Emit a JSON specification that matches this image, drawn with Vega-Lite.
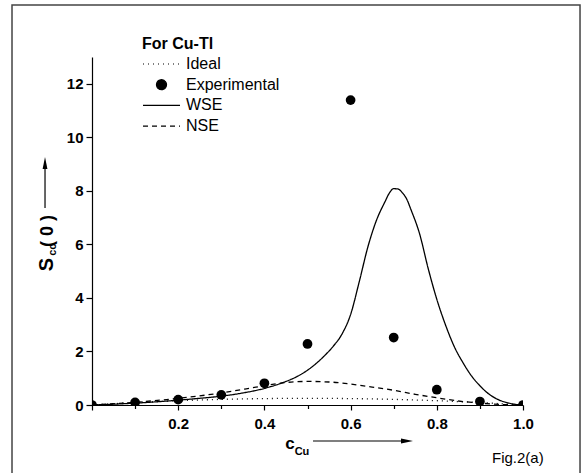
{
  "$schema": "https://vega.github.io/schema/vega-lite/v6.json",
  "width": 431,
  "height": 348,
  "autosize": {"type": "none"},
  "padding": {"left": 92, "top": 57, "right": 59, "bottom": 68},
  "background": "white",
  "config": {"view": {"stroke": null}, "font": "Liberation Sans"},
  "datasets": {
    "curves": [
      {"c": 0, "s": 0, "series": "Ideal"},
      {"c": 0.1, "s": 0.09, "series": "Ideal"},
      {"c": 0.2, "s": 0.16, "series": "Ideal"},
      {"c": 0.3, "s": 0.21, "series": "Ideal"},
      {"c": 0.4, "s": 0.24, "series": "Ideal"},
      {"c": 0.5, "s": 0.25, "series": "Ideal"},
      {"c": 0.6, "s": 0.24, "series": "Ideal"},
      {"c": 0.7, "s": 0.21, "series": "Ideal"},
      {"c": 0.8, "s": 0.16, "series": "Ideal"},
      {"c": 0.9, "s": 0.09, "series": "Ideal"},
      {"c": 1.0, "s": 0, "series": "Ideal"},
      {"c": 0, "s": 0, "series": "WSE"},
      {"c": 0.05, "s": 0.03, "series": "WSE"},
      {"c": 0.1, "s": 0.07, "series": "WSE"},
      {"c": 0.15, "s": 0.12, "series": "WSE"},
      {"c": 0.2, "s": 0.18, "series": "WSE"},
      {"c": 0.25, "s": 0.25, "series": "WSE"},
      {"c": 0.3, "s": 0.33, "series": "WSE"},
      {"c": 0.35, "s": 0.45, "series": "WSE"},
      {"c": 0.4, "s": 0.62, "series": "WSE"},
      {"c": 0.44, "s": 0.82, "series": "WSE"},
      {"c": 0.48, "s": 1.1, "series": "WSE"},
      {"c": 0.5, "s": 1.3, "series": "WSE"},
      {"c": 0.52, "s": 1.55, "series": "WSE"},
      {"c": 0.54, "s": 1.85, "series": "WSE"},
      {"c": 0.56, "s": 2.2, "series": "WSE"},
      {"c": 0.58, "s": 2.65, "series": "WSE"},
      {"c": 0.6, "s": 3.38, "series": "WSE"},
      {"c": 0.62, "s": 4.6, "series": "WSE"},
      {"c": 0.64, "s": 5.9, "series": "WSE"},
      {"c": 0.66, "s": 6.9, "series": "WSE"},
      {"c": 0.68, "s": 7.6, "series": "WSE"},
      {"c": 0.69, "s": 7.92, "series": "WSE"},
      {"c": 0.7, "s": 8.08, "series": "WSE"},
      {"c": 0.71, "s": 8.07, "series": "WSE"},
      {"c": 0.72, "s": 7.93, "series": "WSE"},
      {"c": 0.73, "s": 7.7, "series": "WSE"},
      {"c": 0.74, "s": 7.3, "series": "WSE"},
      {"c": 0.76, "s": 6.4, "series": "WSE"},
      {"c": 0.78, "s": 5.1, "series": "WSE"},
      {"c": 0.8, "s": 3.95, "series": "WSE"},
      {"c": 0.82, "s": 3.0, "series": "WSE"},
      {"c": 0.84, "s": 2.2, "series": "WSE"},
      {"c": 0.86, "s": 1.6, "series": "WSE"},
      {"c": 0.88, "s": 1.1, "series": "WSE"},
      {"c": 0.9, "s": 0.72, "series": "WSE"},
      {"c": 0.92, "s": 0.42, "series": "WSE"},
      {"c": 0.94, "s": 0.22, "series": "WSE"},
      {"c": 0.96, "s": 0.1, "series": "WSE"},
      {"c": 0.98, "s": 0.03, "series": "WSE"},
      {"c": 1.0, "s": 0, "series": "WSE"},
      {"c": 0, "s": 0, "series": "NSE"},
      {"c": 0.1, "s": 0.1, "series": "NSE"},
      {"c": 0.2, "s": 0.25, "series": "NSE"},
      {"c": 0.3, "s": 0.45, "series": "NSE"},
      {"c": 0.4, "s": 0.72, "series": "NSE"},
      {"c": 0.45, "s": 0.84, "series": "NSE"},
      {"c": 0.5, "s": 0.88, "series": "NSE"},
      {"c": 0.55, "s": 0.86, "series": "NSE"},
      {"c": 0.6, "s": 0.78, "series": "NSE"},
      {"c": 0.65, "s": 0.67, "series": "NSE"},
      {"c": 0.7, "s": 0.55, "series": "NSE"},
      {"c": 0.75, "s": 0.4, "series": "NSE"},
      {"c": 0.8, "s": 0.27, "series": "NSE"},
      {"c": 0.85, "s": 0.15, "series": "NSE"},
      {"c": 0.9, "s": 0.07, "series": "NSE"},
      {"c": 0.95, "s": 0.02, "series": "NSE"},
      {"c": 1.0, "s": 0, "series": "NSE"}
    ],
    "exp": [
      {"c": 0, "s": 0},
      {"c": 0.1, "s": 0.1},
      {"c": 0.2, "s": 0.2},
      {"c": 0.3, "s": 0.38},
      {"c": 0.4, "s": 0.81},
      {"c": 0.5, "s": 2.28},
      {"c": 0.6, "s": 11.39},
      {"c": 0.7, "s": 2.52},
      {"c": 0.8, "s": 0.57},
      {"c": 0.9, "s": 0.13},
      {"c": 1.0, "s": 0}
    ]
  },
  "layer": [
    {
      "data": {"name": "curves"},
      "mark": {"type": "line", "color": "black", "strokeWidth": 1.3, "interpolate": "monotone"},
      "encoding": {
        "x": {
          "field": "c", "type": "quantitative",
          "scale": {"domain": [0, 1], "nice": false, "zero": false},
          "axis": {
            "title": null, "grid": false,
            "values": [0, 0.1, 0.2, 0.3, 0.4, 0.5, 0.6, 0.7, 0.8, 0.9, 1.0],
            "labelExpr": "(datum.value > 0.05 && round(datum.value * 10) % 2 == 0) ? format(datum.value, '.1f') : ''",
            "tickSize": {"condition": {"test": "round(datum.value * 10) % 2 == 0", "value": 5}, "value": 3.5},
            "labelFont": "Liberation Sans", "labelFontWeight": "bold", "labelFontSize": 15, "labelColor": "black",
            "labelPadding": 6, "labelFlush": false, "labelOverlap": false,
            "domainColor": "black", "domainWidth": 1.2, "tickColor": "black", "tickWidth": 1.2
          }
        },
        "y": {
          "field": "s", "type": "quantitative",
          "scale": {"domain": [0, 13], "nice": false},
          "axis": {
            "title": null, "grid": false,
            "values": [0, 1, 2, 3, 4, 5, 6, 7, 8, 9, 10, 11, 12, 13],
            "labelExpr": "(datum.value % 2 == 0 && datum.value <= 12) ? datum.label : ''",
            "tickSize": {"condition": {"test": "datum.value % 2 == 0", "value": 6}, "value": 3.5},
            "labelFont": "Liberation Sans", "labelFontWeight": "bold", "labelFontSize": 15, "labelColor": "black",
            "labelPadding": 3, "labelFlush": false, "labelOverlap": false,
            "domainColor": "black", "domainWidth": 1.2, "tickColor": "black", "tickWidth": 1.2
          }
        },
        "strokeDash": {
          "field": "series", "type": "nominal",
          "scale": {"domain": ["Ideal", "Experimental", "WSE", "NSE"], "range": [[1, 4], [1, 0], [1, 0], [5, 4]]},
          "legend": {
            "title": "For Cu-Tl",
            "titleFont": "Liberation Sans", "titleFontSize": 16, "titleFontWeight": "bold", "titleColor": "black",
            "titlePadding": 4,
            "labelFont": "Liberation Sans", "labelFontSize": 16, "labelColor": "black", "labelOffset": 5,
            "orient": "none", "legendX": 50, "legendY": -21, "padding": 0,
            "clipHeight": 16, "rowPadding": 4.7,
            "symbolStrokeColor": "black", "symbolStrokeWidth": 1.2,
            "encode": {
              "symbols": {
                "update": {
                  "shape": {"signal": "datum.value === 'Experimental' ? 'circle' : 'stroke'"},
                  "size": {"signal": "datum.value === 'Experimental' ? 100 : 1369"},
                  "fill": {"signal": "datum.value === 'Experimental' ? 'black' : 'transparent'"},
                  "stroke": {"value": "black"}
                }
              }
            }
          }
        }
      }
    },
    {
      "data": {"name": "exp"},
      "mark": {"type": "point", "shape": "circle", "filled": true, "color": "black", "opacity": 1, "size": 95, "clip": true},
      "encoding": {
        "x": {"field": "c", "type": "quantitative", "scale": {"domain": [0, 1], "nice": false, "zero": false}},
        "y": {"field": "s", "type": "quantitative", "scale": {"domain": [0, 13], "nice": false}}
      }
    },
    {
      "data": {"values": [{}]},
      "mark": {"type": "rect", "fill": "transparent", "stroke": "#444444", "strokeWidth": 1.5, "clip": false},
      "encoding": {
        "x": {"datum": -0.1856, "type": "quantitative", "scale": {"domain": [0, 1], "nice": false, "zero": false}},
        "x2": {"datum": 1.1323},
        "y": {"datum": 14.94, "type": "quantitative", "scale": {"domain": [0, 13], "nice": false}},
        "y2": {"datum": -2.8}
      }
    },
    {
      "data": {"values": [{}]},
      "mark": {"type": "text", "text": "S", "font": "Liberation Sans", "fontWeight": "bold", "fontSize": 20, "angle": 270, "align": "center", "baseline": "alphabetic", "color": "black", "clip": false},
      "encoding": {
        "x": {"datum": -0.0905, "type": "quantitative", "scale": {"domain": [0, 1], "nice": false, "zero": false}},
        "y": {"datum": 5.25, "type": "quantitative", "scale": {"domain": [0, 13], "nice": false}}
      }
    },
    {
      "data": {"values": [{}]},
      "mark": {"type": "text", "text": "cc", "font": "Liberation Sans", "fontWeight": "bold", "fontSize": 11, "angle": 270, "align": "center", "baseline": "alphabetic", "color": "black", "clip": false},
      "encoding": {
        "x": {"datum": -0.0835, "type": "quantitative", "scale": {"domain": [0, 1], "nice": false, "zero": false}},
        "y": {"datum": 5.8, "type": "quantitative", "scale": {"domain": [0, 13], "nice": false}}
      }
    },
    {
      "data": {"values": [{}]},
      "mark": {"type": "text", "text": "( 0 )", "font": "Liberation Sans", "fontWeight": "bold", "fontSize": 18, "angle": 270, "align": "center", "baseline": "alphabetic", "color": "black", "clip": false},
      "encoding": {
        "x": {"datum": -0.0905, "type": "quantitative", "scale": {"domain": [0, 1], "nice": false, "zero": false}},
        "y": {"datum": 6.5, "type": "quantitative", "scale": {"domain": [0, 13], "nice": false}}
      }
    },
    {
      "data": {"values": [{}]},
      "mark": {"type": "rule", "color": "black", "strokeWidth": 1.2, "clip": false},
      "encoding": {
        "x": {"datum": -0.109, "type": "quantitative", "scale": {"domain": [0, 1], "nice": false, "zero": false}},
        "y": {"datum": 7.36, "type": "quantitative", "scale": {"domain": [0, 13], "nice": false}},
        "y2": {"datum": 8.93}
      }
    },
    {
      "data": {"values": [{}]},
      "mark": {"type": "point", "shape": "M0,-1L0.4,1L-0.4,1Z", "filled": true, "color": "black", "opacity": 1, "size": 144, "clip": false},
      "encoding": {
        "x": {"datum": -0.109, "type": "quantitative", "scale": {"domain": [0, 1], "nice": false, "zero": false}},
        "y": {"datum": 9.04, "type": "quantitative", "scale": {"domain": [0, 13], "nice": false}}
      }
    },
    {
      "data": {"values": [{}]},
      "mark": {"type": "text", "text": "c", "font": "Liberation Sans", "fontWeight": "bold", "fontSize": 17, "align": "center", "baseline": "alphabetic", "color": "black", "clip": false},
      "encoding": {
        "x": {"datum": 0.4594, "type": "quantitative", "scale": {"domain": [0, 1], "nice": false, "zero": false}},
        "y": {"datum": -1.659, "type": "quantitative", "scale": {"domain": [0, 13], "nice": false}}
      }
    },
    {
      "data": {"values": [{}]},
      "mark": {"type": "text", "text": "Cu", "font": "Liberation Sans", "fontWeight": "bold", "fontSize": 11, "align": "center", "baseline": "alphabetic", "color": "black", "clip": false},
      "encoding": {
        "x": {"datum": 0.4872, "type": "quantitative", "scale": {"domain": [0, 1], "nice": false, "zero": false}},
        "y": {"datum": -1.868, "type": "quantitative", "scale": {"domain": [0, 13], "nice": false}}
      }
    },
    {
      "data": {"values": [{}]},
      "mark": {"type": "rule", "color": "black", "strokeWidth": 1.2, "clip": false},
      "encoding": {
        "x": {"datum": 0.5128, "type": "quantitative", "scale": {"domain": [0, 1], "nice": false, "zero": false}},
        "x2": {"datum": 0.7262},
        "y": {"datum": -1.345, "type": "quantitative", "scale": {"domain": [0, 13], "nice": false}}
      }
    },
    {
      "data": {"values": [{}]},
      "mark": {"type": "point", "shape": "M1,0L-1,0.4L-1,-0.4Z", "filled": true, "color": "black", "opacity": 1, "size": 144, "clip": false},
      "encoding": {
        "x": {"datum": 0.7309, "type": "quantitative", "scale": {"domain": [0, 1], "nice": false, "zero": false}},
        "y": {"datum": -1.345, "type": "quantitative", "scale": {"domain": [0, 13], "nice": false}}
      }
    },
    {
      "data": {"values": [{}]},
      "mark": {"type": "text", "text": "Fig.2(a)", "font": "Liberation Sans", "fontSize": 15, "align": "left", "baseline": "alphabetic", "color": "black", "clip": false},
      "encoding": {
        "x": {"datum": 0.928, "type": "quantitative", "scale": {"domain": [0, 1], "nice": false, "zero": false}},
        "y": {"datum": -2.167, "type": "quantitative", "scale": {"domain": [0, 13], "nice": false}}
      }
    }
  ]
}
